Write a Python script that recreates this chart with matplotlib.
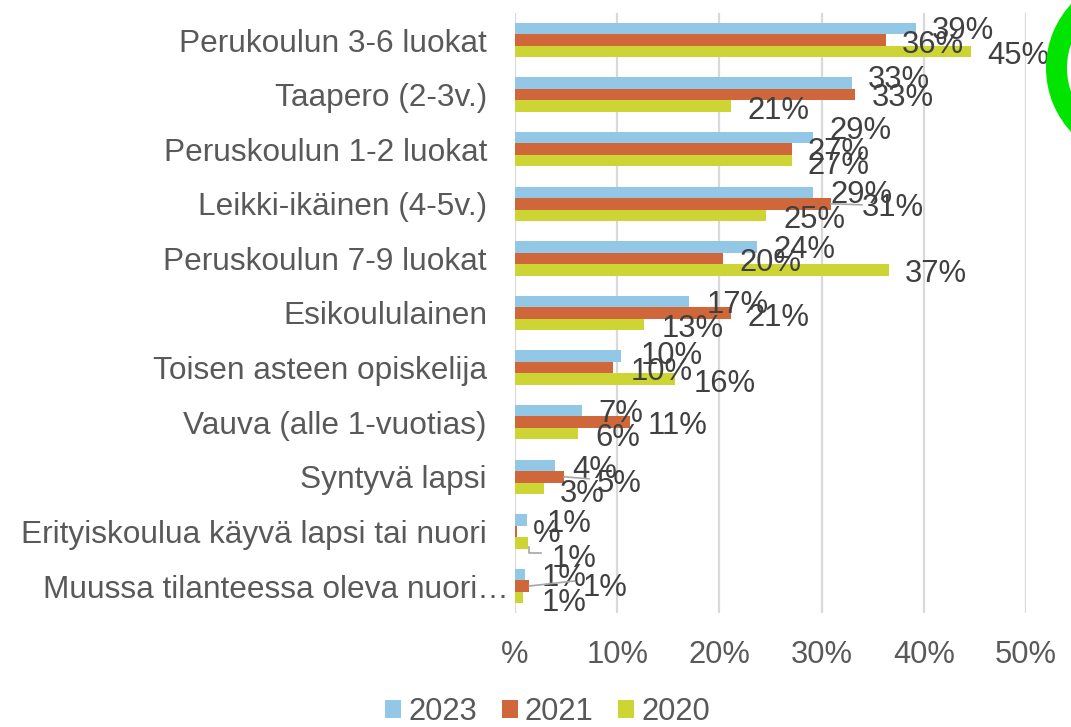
import matplotlib
matplotlib.use("Agg")
import matplotlib.pyplot as plt
import numpy as np
from matplotlib.patches import Patch, Wedge
from matplotlib.lines import Line2D
from matplotlib.transforms import IdentityTransform, ScaledTranslation

# ---------------- data ----------------
categories = [
    "Perukoulun 3-6 luokat",
    "Taapero (2-3v.)",
    "Peruskoulun 1-2 luokat",
    "Leikki-ikäinen (4-5v.)",
    "Peruskoulun 7-9 luokat",
    "Esikoululainen",
    "Toisen asteen opiskelija",
    "Vauva (alle 1-vuotias)",
    "Syntyvä lapsi",
    "Erityiskoulua käyvä lapsi tai nuori",
    "Muussa tilanteessa oleva nuori…",
]
series_names = ["2023", "2021", "2020"]
v2023 = [39.2, 33.0, 29.2, 29.2, 23.7, 17.0, 10.4, 6.6, 3.9, 1.2, 0.95]
v2021 = [36.3, 33.3, 27.1, 30.9, 20.4, 21.1, 9.6, 11.3, 4.8, 0.2, 1.4]
v2020 = [44.6, 21.1, 27.1, 24.6, 36.6, 12.6, 15.7, 6.2, 2.8, 1.3, 0.8]
x_ticks = [0, 10, 20, 30, 40, 50]

# ---------------- layout / style ----------------
W, H, DPI = 1071, 727, 100
colors = ["#92C8E5", "#CF673B", "#CDD535"]
text_grey = "#595959"
label_grey = "#404040"
grid_grey = "#D9D9D9"
fs_cat, fs_tick, fs_lab = 22.8, 22.2, 22.3

# label offsets: (dx, dy) pixels from bar end / bar centre (dy positive = down)
label_offsets = [
    [(16, -1), (16, -6), (16, -10), (17, 0), (16, 0), (18, 0), (19, -3), (16, 0), (17, 1.5), (19, 0.5), (17, 0.5)],
    [(16, 2), (16, 0), (16, 0), (31, 1), (16, 2), (17, 1.5), (18, 1), (17, 1), (33, 3.7), (16, 0), (53, -1.5)],
    [(16, 1), (17, 2), (16, 2), (17, 2), (16, 1), (18, 1.5), (18, 2), (17, 1.5), (16, 2.3), (23, 12.7), (18, 2)],
]
# leader lines: (series, category) -> pixel points relative to bar end / centre
leaders = {
    (1, 3): [(0, 0), (31, 1)],
    (1, 8): [(0, 0), (25, 2)],
    (2, 9): [(0.5, 4), (0.5, 10), (13, 10)],
    (1, 10): [(0, 0), (45, -5)],
}

plt.rcParams["font.family"] = ["Liberation Sans", "DejaVu Sans"]

fig = plt.figure(figsize=(W / DPI, H / DPI), dpi=DPI)
ax_left, ax_right, ax_top, ax_bot = 515, 1026, 12.7, 613.3
ax = fig.add_axes([ax_left / W, 1 - ax_bot / H, (ax_right - ax_left) / W, (ax_bot - ax_top) / H])

n = len(categories)
y = np.arange(n)
bar_h = 0.21
series = [v2023, v2021, v2020]
offs = [-bar_h, 0, bar_h]
for s, (vals, off, col) in enumerate(zip(series, offs, colors)):
    ax.barh(y + off, vals, height=bar_h, color=col, zorder=3, label=series_names[s])

ax.set_xlim(0, 50)
ax.set_ylim(n - 0.5, -0.5)

def pct(v):
    r = int(round(v))
    return "%" if r == 0 else f"{r}%"

ax.set_xticks(x_ticks)
ax.set_xticklabels([pct(t) for t in x_ticks])
ax.set_yticks(y)
ax.set_yticklabels(categories)
ax.tick_params(axis="x", length=0, pad=19.4, labelsize=fs_tick, labelcolor=text_grey)
ax.tick_params(axis="y", length=0, pad=20.2, labelsize=fs_cat, labelcolor=text_grey)
for sp in ax.spines.values():
    sp.set_visible(False)
ax.grid(axis="x", color=grid_grey, linewidth=1.6, zorder=0)
ax.set_axisbelow(True)

# shift truncated last label slightly right (ellipsis overhang)
last = ax.get_yticklabels()[-1]
last.set_transform(last.get_transform() + ScaledTranslation(22 / DPI, 0, fig.dpi_scale_trans))

# data labels
base_shift = 0.358 * fs_lab * DPI / 72.0
for s, (vals, off) in enumerate(zip(series, offs)):
    for i, v in enumerate(vals):
        dx, dy = label_offsets[s][i]
        ax.annotate(pct(v), xy=(v, i + off), xytext=(dx, -dy - base_shift),
                    textcoords="offset pixels", ha="left", va="baseline",
                    fontsize=fs_lab, color=label_grey, zorder=5, annotation_clip=False)

# leader lines
for (s, i), pts in leaders.items():
    v = series[s][i]
    px, py = ax.transData.transform((v, i + offs[s]))
    xs = [px + p[0] for p in pts]
    ys = [py - p[1] for p in pts]
    fig.add_artist(Line2D(xs, ys, transform=IdentityTransform(), color="#A6A6A6", linewidth=1.2, zorder=4))

# legend
handles = [Patch(facecolor=c, edgecolor="none") for c in colors]
fs_px = fs_lab * DPI / 72.0
fig.legend(handles, series_names, loc="center", bbox_to_anchor=(547.5 / W, 1 - 712 / H),
           ncol=3, frameon=False, fontsize=fs_lab, labelcolor=text_grey,
           handlelength=16 / fs_px, handleheight=16 / fs_px, handletextpad=0.23,
           columnspacing=0.8, borderpad=0, borderaxespad=0)

# decorative green ring at top right (partially cropped)
ring = Wedge((1140 / DPI, (H - 68) / DPI), 0.94, 0, 360, width=0.21,
             transform=fig.dpi_scale_trans, facecolor="#00E400", edgecolor="none")
fig.add_artist(ring)

fig.savefig("out.png", dpi=DPI)
